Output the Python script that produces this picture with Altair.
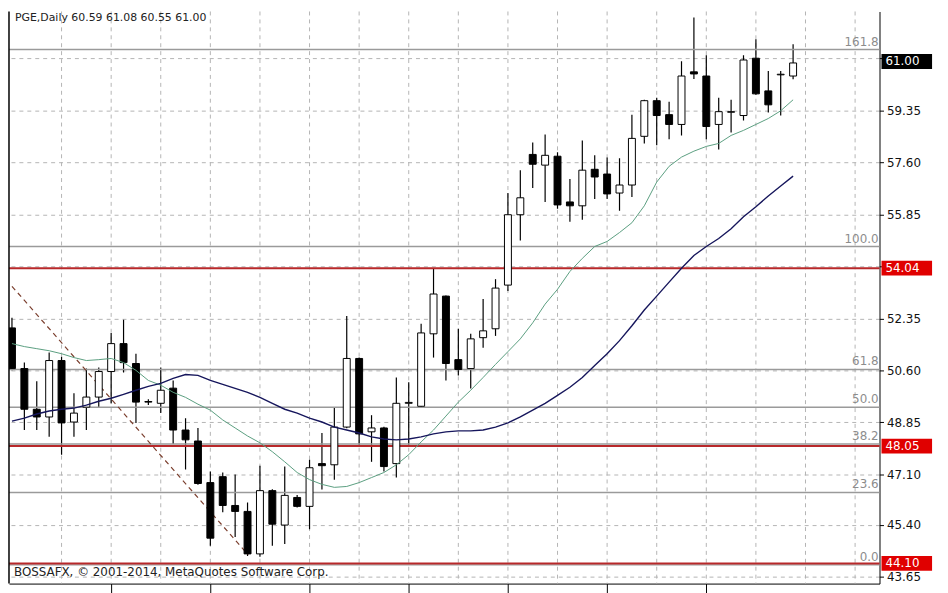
import altair as alt
import pandas as pd

# ---- candles (PGE, Daily) ----
bar_index = list(range(64))
opens = [52.03, 50.66, 49.29, 49.03, 50.93, 48.86, 49.36, 49.70, 50.56, 51.50,
         50.83, 49.55, 49.49, 50.00, 48.59, 48.22, 46.82, 47.02, 46.05, 45.85,
         44.42, 46.55, 45.39, 46.32, 46.02, 47.46, 47.42, 48.69, 51.00, 48.53,
         48.66, 47.46, 49.49, 49.39, 51.83, 53.10, 50.96, 50.66, 51.70, 52.00,
         53.47, 55.84, 57.87, 57.51, 57.81, 56.27, 56.14, 57.37, 57.21, 56.57,
         56.84, 58.48, 59.68, 59.21, 58.88, 60.65, 60.51, 58.88, 59.29, 59.18,
         61.11, 60.01, 60.55, 60.51]
highs = [52.37, 50.86, 50.23, 51.20, 51.06, 49.83, 50.66, 50.70, 51.86, 52.30,
         51.16, 49.63, 50.70, 50.26, 48.99, 48.66, 47.19, 47.16, 47.09, 46.15,
         47.39, 46.60, 47.36, 46.40, 47.59, 48.49, 49.33, 52.43, 51.03, 49.09,
         48.70, 50.36, 50.20, 52.17, 54.03, 53.12, 52.00, 51.83, 53.00, 53.67,
         56.57, 57.34, 58.27, 58.54, 57.94, 57.04, 58.34, 57.84, 57.77, 57.74,
         59.21, 59.71, 59.78, 59.64, 61.01, 62.48, 61.21, 59.78, 59.71, 61.21,
         61.75, 60.68, 60.68, 61.58]
lows = [50.60, 48.59, 48.59, 48.36, 47.76, 48.36, 48.59, 49.36, 49.49, 50.53,
        48.83, 49.43, 49.16, 48.12, 47.26, 46.75, 44.69, 45.82, 44.99, 44.35,
        44.32, 44.69, 44.75, 45.98, 45.25, 46.59, 46.92, 48.65, 48.09, 47.52,
        47.19, 46.99, 48.09, 49.35, 51.03, 50.26, 50.43, 49.99, 51.36, 51.76,
        53.27, 54.97, 56.74, 56.27, 56.04, 55.60, 55.67, 56.37, 56.37, 55.97,
        56.44, 58.24, 58.18, 58.38, 58.51, 60.41, 58.38, 58.04, 58.61, 59.01,
        59.88, 59.28, 59.18, 60.40]
closes = [50.66, 49.29, 49.03, 50.93, 48.83, 49.16, 49.70, 50.56, 51.50, 50.86,
          49.53, 49.53, 49.93, 48.59, 48.26, 46.79, 44.95, 46.05, 45.85, 44.42,
          46.55, 45.42, 46.39, 46.02, 47.32, 47.39, 48.69, 51.00, 48.46, 48.66,
          47.36, 49.49, 49.52, 51.86, 53.17, 50.83, 50.63, 51.66, 51.93, 53.37,
          55.84, 56.41, 57.54, 57.84, 56.17, 56.14, 57.34, 57.11, 56.54, 56.84,
          58.41, 59.68, 59.18, 58.88, 60.51, 60.58, 58.81, 59.31, 59.31, 61.05,
          59.91, 59.54, 60.57, 60.95]

# ---- moving averages ----
ma_fast = [51.50, 51.40, 51.33, 51.26, 51.16, 51.03, 50.93, 50.96, 51.00, 50.86,
           50.60, 50.26, 50.10, 49.86, 49.69, 49.46, 49.26, 48.93, 48.66, 48.39,
           48.16, 47.86, 47.52, 47.16, 46.92, 46.76, 46.66, 46.69, 46.82, 46.99,
           47.16, 47.42, 47.76, 48.19, 48.59, 49.06, 49.53, 49.93, 50.36, 50.80,
           51.23, 51.66, 52.20, 52.83, 53.33, 53.93, 54.37, 54.77, 54.94, 55.24,
           55.57, 56.14, 56.94, 57.47, 57.78, 57.98, 58.14, 58.24, 58.51, 58.68,
           58.88, 59.08, 59.34, 59.71]
ma_slow = [48.89, 48.99, 49.13, 49.23, 49.29, 49.33, 49.43, 49.56, 49.66, 49.79,
           49.93, 50.06, 50.16, 50.33, 50.46, 50.43, 50.26, 50.13, 49.99, 49.86,
           49.69, 49.49, 49.29, 49.16, 48.99, 48.86, 48.69, 48.59, 48.49, 48.36,
           48.29, 48.26, 48.29, 48.36, 48.46, 48.53, 48.56, 48.56, 48.59, 48.69,
           48.83, 49.03, 49.26, 49.49, 49.76, 50.03, 50.36, 50.76, 51.16, 51.60,
           52.10, 52.63, 53.10, 53.57, 54.04, 54.47, 54.77, 55.04, 55.37, 55.77,
           56.11, 56.47, 56.81, 57.14]

# ---- levels, ticks, labels ----
fib_labels = ["161.8", "100.0", "61.8", "50.0", "38.2", "23.6", "0.0"]
fib_prices = [61.40, 54.77, 50.63, 49.36, 48.12, 46.49, 44.05]
red_levels = [54.04, 48.05, 44.10]
box_prices = [61.00, 54.04, 48.05, 44.10]
box_texts = ["61.00", "54.04", "48.05", "44.10"]
box_colors = ["#000000", "#e00000", "#e00000", "#e00000"]
y_ticks = [61.10, 59.35, 57.60, 55.85, 54.10, 52.35, 50.60, 48.85, 47.10, 45.40, 43.65]
x_grid = [4, 8, 12, 16, 20, 24, 28, 32, 36, 40, 44, 48, 52, 56, 60, 64, 68]
x_ticks = [8, 16, 24, 32, 40, 48, 56]
trend_i = [0, 19.05]
trend_p = [53.43, 44.39]
title_text = "PGE,Daily  60.59 61.08 60.55 61.00"
copyright_text = "BOSSAFX, \u00a9 2001-2014, MetaQuotes Software Corp."

W, H = 878, 577
xs = alt.Scale(domain=[0.16, 69.57], nice=False, zero=False)
ys = alt.Scale(domain=[43.42, 62.683], nice=False, zero=False)
FONT = "DejaVu Sans"

df = pd.DataFrame({"i": bar_index, "o": opens, "h": highs, "l": lows, "c": closes,
                   "ma_fast": ma_fast, "ma_slow": ma_slow})

x_axis = alt.Axis(values=x_ticks, labels=False, grid=False, title=None, tickSize=9,
                  tickColor="black", domainColor="black", domainWidth=1)
y_axis = alt.Axis(orient="right", values=y_ticks, format=".2f", title=None,
                  labelExpr="(datum.value == 61.1 || datum.value == 54.1) ? '' : datum.label",
                  grid=True, gridDash=[4, 4], gridColor="#b4b4b4", gridWidth=1,
                  domainColor="black", domainWidth=1, tickColor="black", tickSize=4,
                  labelFont=FONT, labelFontSize=12, labelColor="#111111",
                  labelPadding=3, labelOverlap=False)


def X(field):
    return alt.X(field, scale=xs, axis=x_axis, title=None)


def Y(field):
    return alt.Y(field, scale=ys, axis=y_axis, title=None)


vgrid = alt.Chart(pd.DataFrame({"g": x_grid})).mark_rule(
    color="#b4b4b4", strokeDash=[4, 4], strokeWidth=1).encode(x=X("g:Q"))

wicks = alt.Chart(df).mark_rule(color="black", strokeWidth=1.2, clip=True).encode(
    x=X("i:Q"), y=Y("l:Q"), y2="h:Q")

bodies = alt.Chart(df).mark_bar(size=7, stroke="black", strokeWidth=1, clip=True).encode(
    x=X("i:Q"), y=Y("o:Q"), y2="c:Q",
    fill=alt.condition("datum.c >= datum.o", alt.value("white"), alt.value("black")),
)

fib_df = pd.DataFrame({"label": fib_labels, "price": fib_prices})
fib_lines = alt.Chart(fib_df).mark_rule(color="#9a9a9a", strokeWidth=1.5).encode(
    y=Y("price:Q"))
fib_text = alt.Chart(fib_df).mark_text(align="right", baseline="bottom", dy=-1,
                                       font=FONT, fontSize=12, color="#8c8c8c").encode(
    x=alt.value(W - 1), y=Y("price:Q"), text="label:N")

red_lines = alt.Chart(pd.DataFrame({"price": red_levels})).mark_rule(
    color="#b8282a", strokeWidth=2).encode(y=Y("price:Q"))

trend = alt.Chart(pd.DataFrame({"i": trend_i, "p": trend_p})).mark_line(
    color="#7b3f2e", strokeDash=[5, 4], strokeWidth=1.2, clip=True).encode(
    x=X("i:Q"), y=Y("p:Q"))

ma1 = alt.Chart(df).mark_line(color="#5a9e80", strokeWidth=1, clip=True).encode(
    x=X("i:Q"), y=Y("ma_fast:Q"))
ma2 = alt.Chart(df).mark_line(color="#16165c", strokeWidth=1.4, clip=True).encode(
    x=X("i:Q"), y=Y("ma_slow:Q"))

box_df = pd.DataFrame({"price": box_prices, "t": box_texts, "col": box_colors})
boxes = alt.Chart(box_df).mark_rule(strokeWidth=15, strokeCap="butt").encode(
    x=alt.value(W + 2), x2=alt.value(W + 53),
    y=Y("price:Q"),
    color=alt.Color("col:N", scale=None, legend=None))
box_text = alt.Chart(box_df).mark_text(align="left", baseline="middle", font=FONT,
                                       fontSize=12, color="white").encode(
    x=alt.value(W + 6), y=Y("price:Q"), text="t:N")

left_frame = alt.Chart(pd.DataFrame({"a": [0]})).mark_rule(color="black", strokeWidth=1.5).encode(
    x=alt.value(0), y=alt.value(0), y2=alt.value(H))

copy_txt = alt.Chart(pd.DataFrame({"t": [copyright_text]})).mark_text(
    align="left", baseline="middle", font=FONT, fontSize=12, color="#222222").encode(
    x=alt.value(5), y=alt.value(565), text="t:N")
title_txt = alt.Chart(pd.DataFrame({"t": [title_text]})).mark_text(
    align="left", baseline="top", font=FONT, fontSize=11, color="#222222").encode(
    x=alt.value(6), y=alt.value(1), text="t:N")

chart = alt.layer(
    vgrid, wicks, fib_lines, red_lines, trend, bodies, ma1, ma2,
    fib_text, boxes, box_text, left_frame, copy_txt, title_txt,
).properties(width=W, height=H, padding=0).configure_view(stroke=None)

chart.save("out.html", embed_options={"renderer": "svg", "actions": False})
